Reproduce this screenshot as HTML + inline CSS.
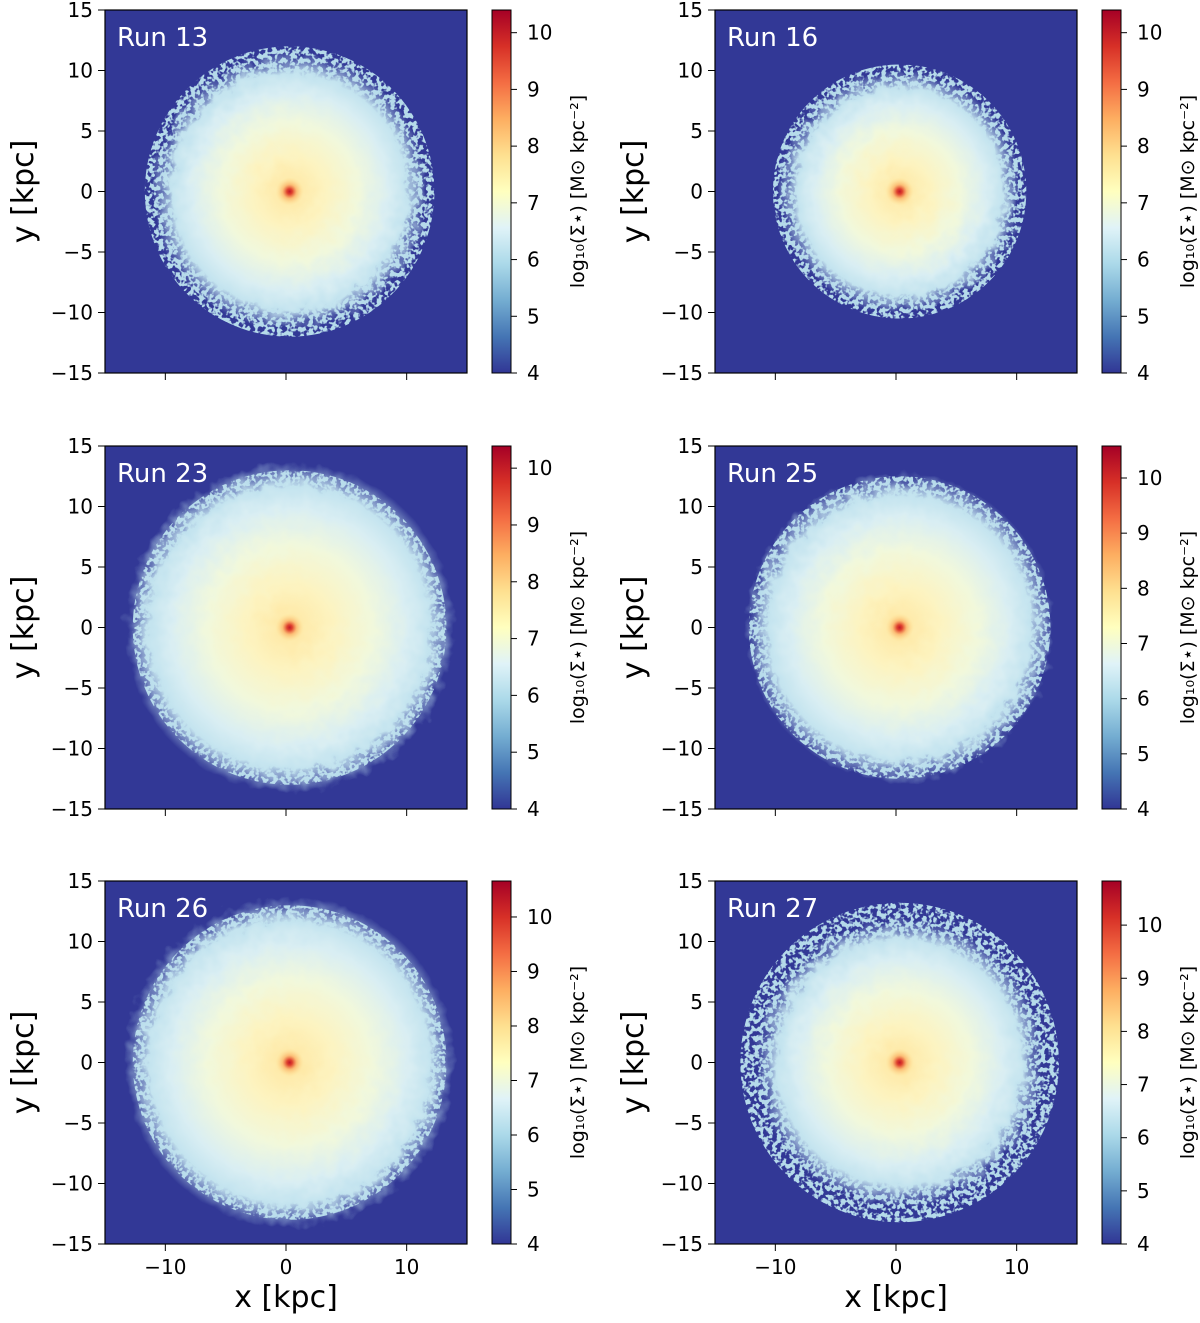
<!DOCTYPE html>
<html><head><meta charset="utf-8">
<style>
html,body{margin:0;padding:0;background:#fff;}
svg{display:block;font-family:"DejaVu Sans","Liberation Sans",sans-serif;}
</style></head>
<body>
<svg id="fig" width="1200" height="1323" viewBox="0 0 1200 1323">
<defs>
<linearGradient id="cmap" x1="0" y1="1" x2="0" y2="0">
<stop offset="0" stop-color="#313695"/><stop offset="0.1" stop-color="#4575b4"/>
<stop offset="0.2" stop-color="#74add1"/><stop offset="0.3" stop-color="#abd9e9"/>
<stop offset="0.4" stop-color="#e0f3f8"/><stop offset="0.5" stop-color="#ffffbf"/>
<stop offset="0.6" stop-color="#fee090"/><stop offset="0.7" stop-color="#fdae61"/>
<stop offset="0.8" stop-color="#f46d43"/><stop offset="0.9" stop-color="#d73027"/>
<stop offset="1" stop-color="#a50026"/>
</linearGradient>
<radialGradient id="gal">
<stop offset="0" stop-color="#fee6a0"/><stop offset="0.25" stop-color="#fdf3bf"/>
<stop offset="0.5" stop-color="#f1f8dc"/><stop offset="0.72" stop-color="#d9eef3"/>
<stop offset="0.85" stop-color="#c4e4ef"/>
<stop offset="1" stop-color="#b9dded" stop-opacity="0"/>
</radialGradient>
<radialGradient id="core">
<stop offset="0" stop-color="#c0182a"/><stop offset="0.2" stop-color="#e0442f"/>
<stop offset="0.5" stop-color="#fbb36a" stop-opacity="0.8"/><stop offset="1" stop-color="#fee090" stop-opacity="0"/>
</radialGradient>
<filter id="rough" x="-10%" y="-10%" width="120%" height="120%">
<feTurbulence type="fractalNoise" baseFrequency="0.08" numOctaves="2" seed="3"/>
<feDisplacementMap in="SourceGraphic" scale="14"/>
</filter>
<filter id="speckle" x="-10%" y="-10%" width="120%" height="120%">
<feTurbulence type="fractalNoise" baseFrequency="0.22" numOctaves="2" seed="7" result="n"/>
<feColorMatrix in="n" type="matrix" values="0 0 0 0 0  0 0 0 0 0  0 0 0 0 0  0 0 0 9 -4.0" result="m"/>
<feComposite in="SourceGraphic" in2="m" operator="in"/>
</filter>
</defs>
<g id="root"></g>
</svg>
<script>
const runs = ["Run 13","Run 16","Run 23","Run 25","Run 26","Run 27"];
const radii = [12, 10.5, 13, 12.5, 13, 13.2];
const diskFrac = [0.95, 0.95, 1.05, 1.02, 1.05, 0.9];
const cbarMax = [10.4, 10.4, 10.39, 10.58, 10.66, 10.83];
const cbarMin = 4;
const cbarTicks = [4,5,6,7,8,9,10];
const xTicks = [-10,0,10];
const yTicks = [-15,-10,-5,0,5,10,15];

const NS="http://www.w3.org/2000/svg";
const root=document.getElementById('root');
function mk(tag,attrs,parent){const e=document.createElementNS(NS,tag);for(const k in attrs)e.setAttribute(k,attrs[k]);(parent||root).appendChild(e);return e;}
const colX=[105,715], rowY=[10,446,881], W=362, H=363, cbW=19, cbGap=387;
function fmt(v){return v<0?"\u2212"+(-v):""+v;}

runs.forEach((name,i)=>{
  const px=colX[i%2], py=rowY[Math.floor(i/2)];
  const sx=v=>px+(v+15)/30*W, sy=v=>py+(15-v)/30*H;
  const g=mk('g',{});
  
  
  const bg=mk('rect',{x:px,y:py,width:W,height:H,fill:'#323896'},g);
  
  
  const cl=mk('clipPath',{id:'cp'+i},g);
  mk('rect',{x:px,y:py,width:W,height:H},cl);
  const rx=radii[i]/30*W, ry=radii[i]/30*H;
  const halo=mk('ellipse',{cx:sx(0.3),cy:sy(0),rx:rx,ry:ry,fill:'#b5daea',filter:'url(#speckle)','clip-path':'url(#cp'+i+')'},g);
  
  
  const blob=mk('ellipse',{cx:sx(0.3),cy:sy(0),rx:rx*diskFrac[i],ry:ry*diskFrac[i],fill:'url(#gal)',filter:'url(#rough)','clip-path':'url(#cp'+i+')'},g);
  
  
  const core=mk('circle',{cx:sx(0.3),cy:sy(0),r:14,fill:'url(#core)'},g);
  
  
  mk('rect',{x:px,y:py,width:W,height:H,fill:'none',stroke:'#000','stroke-width':1.2},g);
  const t=mk('text',{x:px+12,y:py+36,fill:'#fff','font-size':26},g);t.textContent=name;
  
  
  xTicks.forEach(v=>{mk('line',{x1:sx(v),x2:sx(v),y1:py+H,y2:py+H+7,stroke:'#000'},g);
    if(i>=4){const tt=mk('text',{x:sx(v),y:py+H+30,'font-size':20,'text-anchor':'middle'},g);tt.textContent=fmt(v);}});
  yTicks.forEach(v=>{mk('line',{x1:px-7,x2:px,y1:sy(v),y2:sy(v),stroke:'#000'},g);
    const tt=mk('text',{x:px-12,y:sy(v)+7,'font-size':20,'text-anchor':'end'},g);tt.textContent=fmt(v);});
  const yl=mk('text',{x:0,y:0,'font-size':30,'text-anchor':'middle',transform:`translate(${px-72},${py+H/2}) rotate(-90)`},g);
  yl.textContent='y [kpc]';
  
  
  if(i>=4){const xl=mk('text',{x:px+W/2,y:py+H+63,'font-size':30,'text-anchor':'middle'},g);xl.textContent='x [kpc]';
    
    }
  const cx=px+cbGap, cy=v=>py+H-(v-cbarMin)/(cbarMax[i]-cbarMin)*H;
  const cb=mk('rect',{x:cx,y:py,width:cbW,height:H,fill:'url(#cmap)',stroke:'#000','stroke-width':1},g);
  
  
  cbarTicks.forEach(v=>{const yy=cy(v);mk('line',{x1:cx+cbW,x2:cx+cbW+6,y1:yy,y2:yy,stroke:'#000'},g);
    const tt=mk('text',{x:cx+cbW+16,y:yy+7,'font-size':20},g);tt.textContent=v;});
  const cl2=mk('text',{x:0,y:0,'font-size':19,'text-anchor':'middle',transform:`translate(${cx+92},${py+H/2}) rotate(-90)`},g);
  cl2.textContent='log\u2081\u2080(\u03A3\u22C6) [M\u2299 kpc\u207B\u00B2]';
  
  
});
</script>
</body></html>
